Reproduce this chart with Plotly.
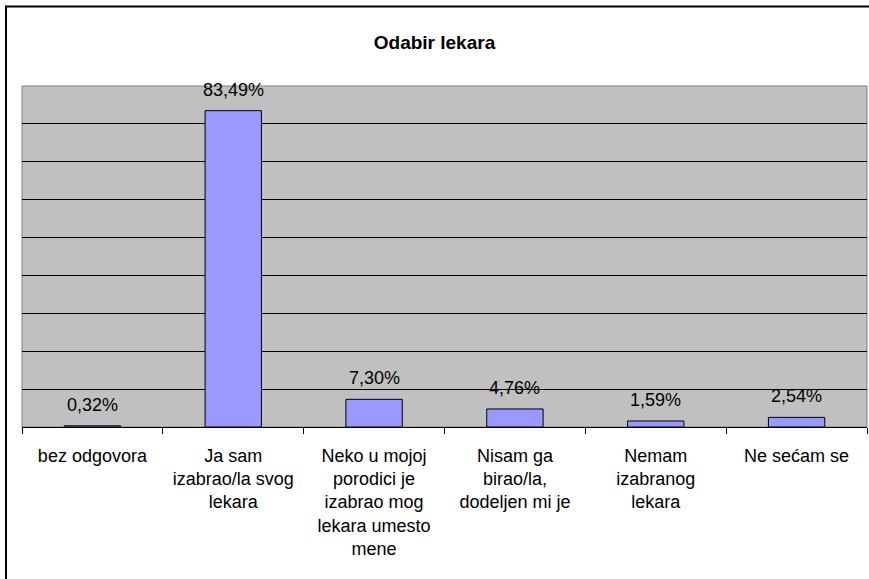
import plotly.graph_objects as go

categories = [
    "bez odgovora",
    "Ja sam<br>izabrao/la svog<br>lekara",
    "Neko u mojoj<br>porodici je<br>izabrao mog<br>lekara umesto<br>mene",
    "Nisam ga<br>birao/la,<br>dodeljen mi je",
    "Nemam<br>izabranog<br>lekara",
    "Ne sećam se",
]
values = [0.32, 83.49, 7.30, 4.76, 1.59, 2.54]
labels = [f"{v:.2f}".replace(".", ",") + "%" for v in values]
grid_vals = [10, 20, 30, 40, 50, 60, 70, 80]

FONT = "Liberation Sans, Arial, sans-serif"
W, H = 869, 579
ML, MR, MT, MB = 22, 2, 86, 152
pw, ph = W - ML - MR, H - MT - MB

fig = go.Figure(go.Bar(
    x=categories, y=values,
    marker=dict(color="#9999FF", line=dict(color="black", width=1)),
    width=0.4,
    hoverinfo="skip",
))

for c, v, t in zip(categories, values, labels):
    fig.add_annotation(x=c, y=v, text=t, showarrow=False, yanchor="bottom",
                       yshift=9, font=dict(family=FONT, size=18, color="black"))

# plot-area border (gray)
fig.add_shape(type="rect", xref="x domain", yref="y domain", x0=0, x1=1, y0=0, y1=1,
              line=dict(color="#808080", width=1), layer="below")
# outer chart border
fig.add_shape(type="rect", xref="paper", yref="paper",
              x0=(6 - ML) / pw, x1=(W + 10 - ML) / pw,
              y0=-(H + 10 - (MT + ph)) / ph, y1=(MT + ph - 6.5) / ph,
              line=dict(color="black", width=2))

fig.update_layout(
    width=W, height=H,
    margin=dict(l=ML, r=MR, t=MT, b=MB),
    paper_bgcolor="white", plot_bgcolor="#C0C0C0",
    font=dict(family=FONT, size=18, color="black"),
    title=dict(text="<b>Odabir lekara</b>", x=0.5, xanchor="center",
               y=1 - 42 / H, yanchor="middle", font=dict(family=FONT, size=19)),
    showlegend=False,
    bargap=0.6,
)
fig.update_xaxes(showline=True, linecolor="black", linewidth=1,
                 ticks="outside", tickson="boundaries", ticklen=6, tickcolor="black",
                 showgrid=False, tickangle=0, tickfont=dict(size=18),
                 ticklabelstandoff=12)
fig.update_yaxes(range=[0, 90], tickvals=grid_vals, showticklabels=False,
                 showgrid=True, gridcolor="black", gridwidth=1, zeroline=False,
                 showline=False, ticks="")

fig.write_html("out.html", config={"displayModeBar": False},
               post_script="document.body.style.margin='0';")
